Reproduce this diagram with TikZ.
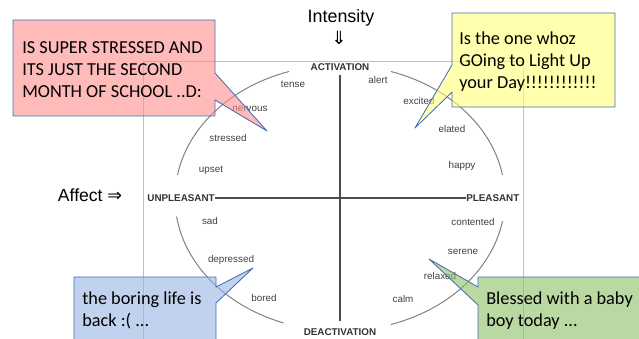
\documentclass[tikz,border=0pt]{standalone}
\usepackage{fontspec}
\setmainfont{Liberation Sans}
\newfontfamily\calloutfont{Carlito}
\newfontfamily\arrowfont{DejaVu Sans}
\usetikzlibrary{calc}
\definecolor{edgeblue}{RGB}{70,110,180}
\definecolor{pinkfill}{RGB}{255,140,140}
\definecolor{yellowfill}{RGB}{255,255,120}
\definecolor{bluefill}{RGB}{150,180,225}
\definecolor{greenfill}{RGB}{140,190,100}
\tikzstyle{bubble} = [draw=edgeblue, line width=0.6pt, fill opacity=0.6, line join=round]
\tikzstyle{bubbletext} = [anchor=north west, inner sep=0pt, align=left, font=\calloutfont\fontsize{13}{15.6}\selectfont]
\tikzstyle{mood} = [inner sep=0pt, text=black!75, font=\fontsize{7}{8}\selectfont]
\tikzstyle{pole} = [inner sep=0pt, text=black!80, font=\fontsize{7}{8}\selectfont\bfseries]
\tikzstyle{axis} = [black!70, line width=1.1pt]

\begin{document}
\begin{tikzpicture}[x=0.025cm,y=-0.025cm]
    \useasboundingbox (0,0) rectangle (639,339);
    % frame of the circumplex figure
    \draw [black!25] (143,345) |- (523,61) -- (523,345);
    \coordinate (ctr) at (340,198);
    \foreach \a in {10,108,188,288}
        \draw [black!50, line width=0.7pt] (ctr) ++(-\a:165 and 133) arc[start angle=-\a, end angle=-\a-62, x radius=165, y radius=133];
    \node [pole] (act) at (340,67) {ACTIVATION};
    \node [pole] (deact) at (340,332) {DEACTIVATION};
    \node [pole, anchor=east] (unpl) at (215,198) {UNPLEASANT};
    \node [pole, anchor=west] (pleas) at (466,198) {PLEASANT};
    \draw [axis] (unpl.east) -- (pleas.west);
    \draw [axis, shorten <=3pt, shorten >=5pt] (act.south) -- (deact.north);
    \foreach \w/\p in {tense/{293,84}, nervous/{250,109}, stressed/{228,138}, upset/{211,170},
                       alert/{378,80}, excited/{419,101}, elated/{452,129}, happy/{462,166},
                       sad/{210,221}, depressed/{231,260}, bored/{264,298},
                       contented/{473,222}, serene/{463,252}, relaxed/{440,276}, calm/{403,299}}
        \node [mood] (\w) at (\p) {\w};
    \node [anchor=base, font=\fontsize{12.7}{14}\selectfont] (intensity) at (341,23) {Intensity};
    \node [font=\arrowfont\fontsize{13}{14}\selectfont] (intarrow) at (339,38) {⇓};
    \node [anchor=base west, font=\fontsize{12.5}{14}\selectfont] (affect) at (53,202) {Affect {\arrowfont ⇒}};
    % callouts
    \draw [bubble, fill=pinkfill] (13,20) -- (215,20) -- (215,73) -- (267,131) -- (215,100) -- (215,116) -- (13,116) -- cycle;
    \draw [bubble, fill=yellowfill] (452,13) -- (615,13) -- (615,107) -- (452,107) -- (452,92) -- (415,128) -- (452,65) -- cycle;
    \draw [bubble, fill=bluefill] (74,345) |- (216,277) -- (216,287) -- (253,268) -- (216,303) -- (216,345) -- cycle;
    \draw [bubble, fill=greenfill] (650,345) -- (650,277) -- (478,277) -- (478,287) -- (429,259) -- (478,305) -- (478,345) -- cycle;
    \node [bubbletext] (stressnote) at (22,41) {IS SUPER STRESSED AND\\ITS JUST THE SECOND\\MONTH OF SCHOOL ..D:};
    \node [bubbletext] (lightnote) at (459,32) {Is the one whoz\\GOing to Light Up\\your Day!!!!!!!!!!!!};
    \node [bubbletext] (boringnote) at (82,292) {the boring life is\\back :( ...};
    \node [bubbletext] (babynote) at (486,292) {Blessed with a baby\\boy today ...};
\end{tikzpicture}
\end{document}
